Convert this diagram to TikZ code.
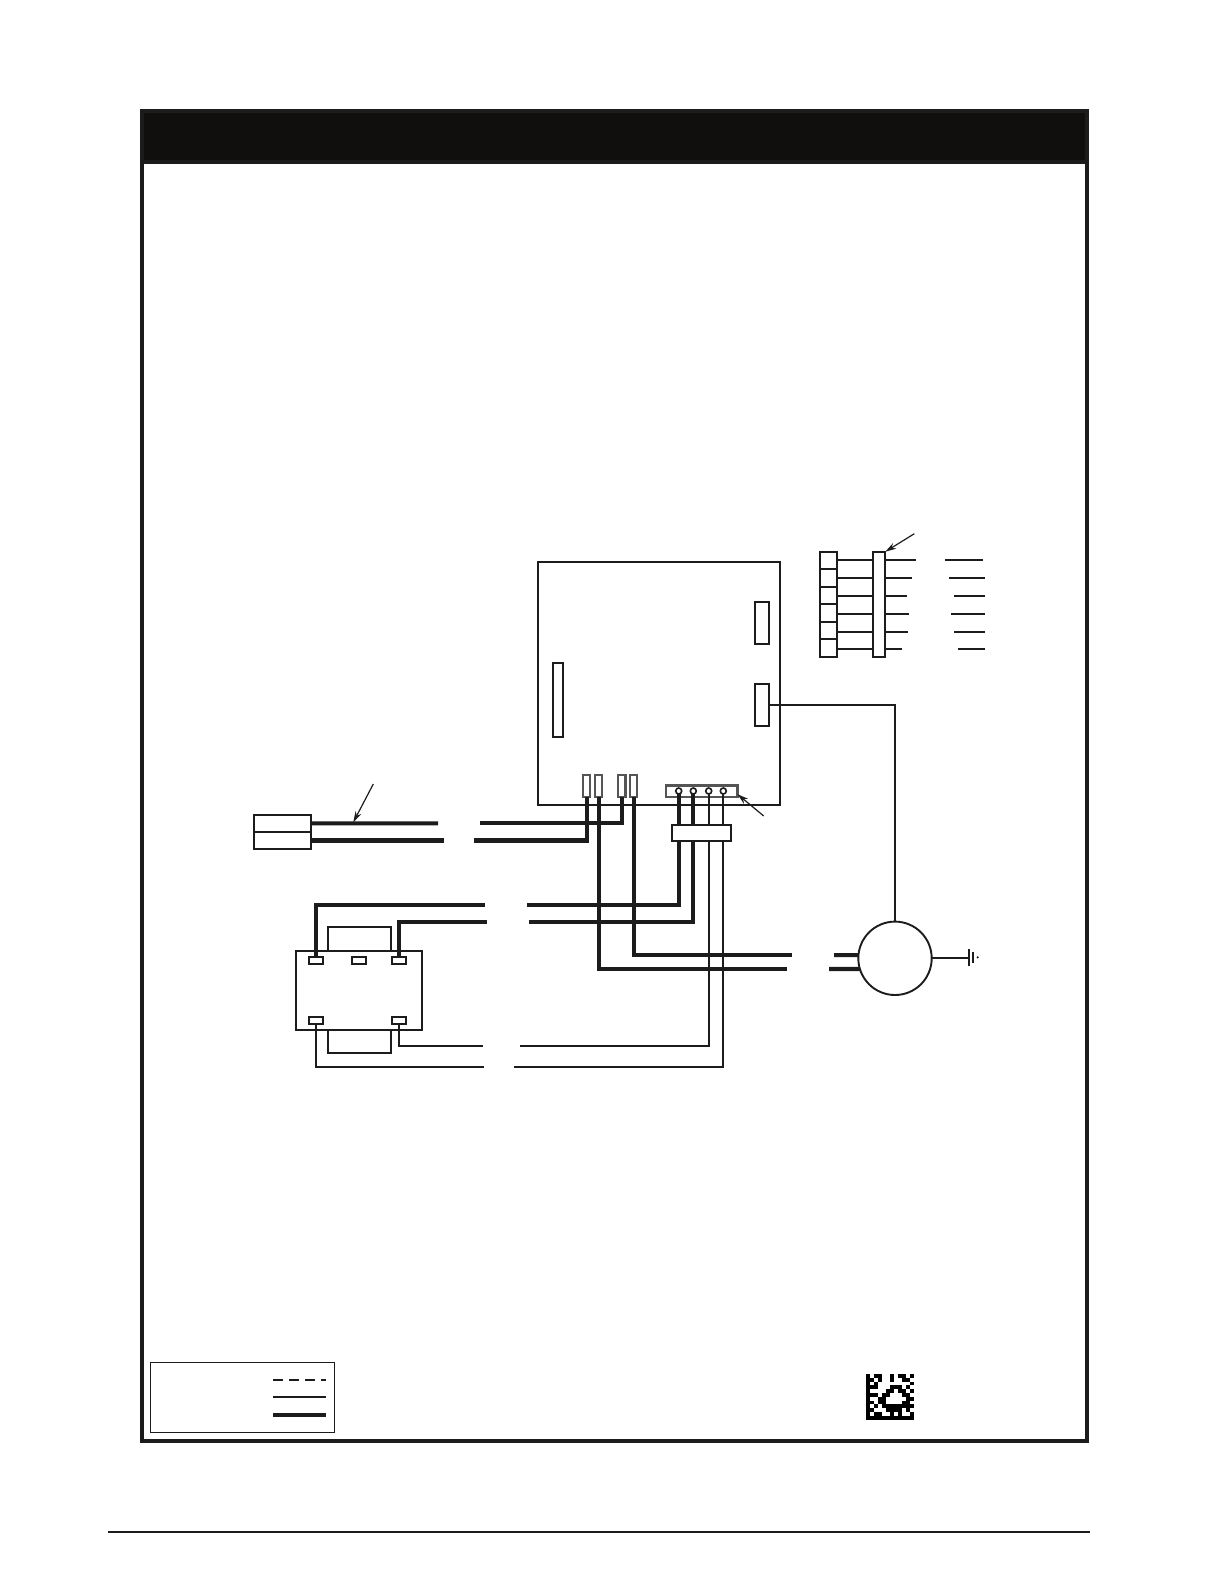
\documentclass[tikz,border=0pt]{standalone}
\usepackage{tikz}
\usetikzlibrary{arrows.meta}
\definecolor{inkline}{HTML}{1C1C1C}
\definecolor{headfill}{HTML}{100F0D}
\tikzset{
partbox/.style={draw=inkline,fill=white,line width=0.95pt,inner sep=0pt,outer sep=0pt},
lugbox/.style={partbox,draw=inkline!75,line width=1.05pt},
pinnode/.style={circle,draw=inkline,fill=white,line width=0.8pt,inner sep=0pt,outer sep=0pt,minimum size=3pt},
thickwire/.style={draw=inkline,line width=2.1pt},
thinwire/.style={draw=inkline,line width=0.95pt},
dashwire/.style={draw=inkline,line width=1pt,dash pattern=on 5.15pt off 2.85pt},
leader/.style={draw=inkline,line width=0.6pt,-{Stealth[length=5.5pt,width=3.2pt]}},
frameline/.style={draw=inkline,line width=2pt}
}
\newcommand{\partat}[6][partbox]{\node[#1,minimum width={(#5-(#3))*0.5pt},minimum height={(#6-(#4))*0.5pt}] (#2) at ({(#3+#5)/2},{(#4+#6)/2}) {};}
\begin{document}
\begin{tikzpicture}[x=0.5pt,y=-0.5pt]
\useasboundingbox (0,0) rectangle (1224,1584);
\draw[frameline] (142,111) rectangle (1087,1441);
\draw[frameline,fill=headfill] (142,111) rectangle (1087,162);
\draw[inkline,line width=1.25pt] (108,1532) -- (1090,1532);

\partat{board}{537.7}{562}{780}{805}
\partat{slotL}{552.7}{662.7}{563.3}{737.3}
\partat{slotA}{754.7}{602.3}{768.7}{644.3}
\partat{slotB}{754.7}{683.7}{768.7}{726.3}
\partat[lugbox]{term1}{583}{775.3}{590.3}{796.7}
\partat[lugbox]{term2}{595}{775.3}{602.3}{796.7}
\partat[lugbox]{term3}{618}{775.3}{625.5}{796.7}
\partat[lugbox]{term4}{630}{775.3}{637.3}{796.7}
\partat[lugbox]{strip}{666}{785.5}{737.5}{796.7}
\node[pinnode] (pin1) at (678.7,791) {};
\node[pinnode] (pin2) at (693.3,791) {};
\node[pinnode] (pin3) at (708.7,791) {};
\node[pinnode] (pin4) at (723.3,791) {};
\partat{block}{671.7}{824.7}{731.3}{841.3}

\partat{plugA}{254.3}{814.7}{311.3}{832}
\partat{plugB}{254.3}{832}{311.3}{849}
\coordinate (cutA) at (438,823.35);
\coordinate (cutB) at (444,840.5);
\coordinate (cutC) at (480,823.35);
\coordinate (cutD) at (474,840.5);
\draw[thickwire] (plugA.east) -- (cutA);
\draw[thickwire] (plugB.east) -- (cutB);
\draw[thickwire] (term3.south) |- (cutC);
\draw[thickwire] (term1.south) |- (cutD);
\coordinate (tipA) at (373.3,784);
\coordinate (tipB) at (353.3,822.3);
\draw[leader] (tipA) -- (tipB);

\partat{coreT}{327.7}{926.7}{391.3}{951}
\partat{coreB}{327.7}{1029}{391.3}{1053}
\partat{xfmr}{295.7}{950.7}{422.3}{1029.7}
\partat{lugA}{308.7}{956.7}{323.3}{964.3}
\partat{lugB}{351.7}{956.7}{366.3}{964.3}
\partat{lugC}{391.7}{956.7}{406.3}{964.3}
\partat{lugD}{308.7}{1016.7}{323.3}{1024.3}
\partat{lugE}{391.7}{1016.7}{406.3}{1024.3}
\coordinate (cutE) at (485,905.3);
\coordinate (cutF) at (527,905.3);
\coordinate (cutG) at (487,922.3);
\coordinate (cutH) at (529,922.3);
\coordinate (cutJ) at (483,1046);
\coordinate (cutK) at (520,1046);
\coordinate (cutL) at (483.7,1066.7);
\coordinate (cutM) at (514,1066.7);
\draw[thickwire] (lugA.north) |- (cutE);
\draw[thickwire] (cutF) -| (pin1 |- block.south);
\draw[thickwire] (lugC.north) |- (cutG);
\draw[thickwire] (cutH) -| (pin2 |- block.south);
\draw[thinwire] (lugE.south) |- (cutJ);
\draw[thinwire] (cutK) -| (pin3 |- block.south);
\draw[thinwire] (lugD.south) |- (cutL);
\draw[thinwire] (cutM) -| (pin4 |- block.south);
\draw[thickwire] (pin1.south) -- (pin1 |- block.north);
\draw[thickwire] (pin2.south) -- (pin2 |- block.north);
\draw[thinwire] (pin3.south) -- (pin3 |- block.north);
\draw[thinwire] (pin4.south) -- (pin4 |- block.north);
\coordinate (tipC) at (763.7,816);
\draw[leader] (tipC) -- (strip.-5);

\node[draw=inkline,fill=white,line width=0.95pt,circle,inner sep=0pt,outer sep=0pt,minimum size=36.7pt] (motor) at (895,958.3) {};
\coordinate (cutN) at (792,955.1);
\coordinate (cutP) at (786.7,969);
\coordinate (cutQ) at (834,955.1);
\coordinate (cutR) at (829,969);
\draw[thickwire] (term4.south) |- (cutN);
\draw[thickwire] (term2.south) |- (cutP);
\draw[thickwire] (cutQ) -- (motor.175);
\draw[thickwire] (cutR) -- (motor.197);
\draw[thinwire] (slotB.east) -| (motor.north);
\coordinate (earth) at (968.7,958.3);
\draw[thinwire] (motor.east) -- (earth);
\draw[inkline,line width=1pt] (968.7,949) -- (968.7,965.7);
\draw[inkline,line width=1pt] (973.2,952) -- (973.2,962.7);
\fill[inkline] (977.7,957.3) circle (1.2);

\partat{bar}{872.7}{551.7}{885.3}{657}
\partat{cell1}{819.7}{551.7}{837}{569}
\partat{cell2}{819.7}{569}{837}{586.7}
\partat{cell3}{819.7}{586.7}{837}{604}
\partat{cell4}{819.7}{604}{837}{621.7}
\partat{cell5}{819.7}{621.7}{837}{639}
\partat{cell6}{819.7}{639}{837}{657}
\foreach \i/\yy/\xa/\xb/\xc in {1/559.7/916/945/983,2/577.7/912/949/984.7,3/596/907/954/984.7,4/614/909/951/984.7,5/632/908/954/984.7,6/648.7/902/958/984.7}{
\coordinate (endA\i) at (\xa,\yy);
\coordinate (endB\i) at (\xb,\yy);
\coordinate (endC\i) at (\xc,\yy);
\draw[thinwire] (endA\i -| cell\i.east) -- (endA\i -| bar.west);
\draw[thinwire] (endA\i -| bar.east) -- (endA\i);
\draw[thinwire] (endB\i) -- (endC\i);
}
\coordinate (tipD) at (914.3,533.7);
\draw[leader] (tipD) -- (bar.north east);

\partat[partbox,line width=0.65pt]{legend}{150.3}{1362.3}{334.3}{1432.3}
\foreach \yy/\wire in {1380/dashwire,1397/thinwire,1415/thickwire}
\draw[\wire] (273,\yy) -- (326,\yy);

\foreach \r/\cols in {0/{0,2,3,6,8,9,11},1/{0,1,3,6,9,10},2/{0,2,11},3/{0,1,2,6,7,8,10},4/{0,5,6,8,9,11},5/{0,1,2,4,5,9,10},6/{0,3,4,10,11},7/{0,1,3,4,9,10},8/{0,2,4,5,6,7,8,9,10,11},9/{0,1,5,6,7,8,10},10/{0,2,3,6,8,11},11/{0,1,2,3,4,5,6,7,8,9,10,11}}
\foreach \c in \cols
\fill[black] ({866+4*\c},{1374+3.8*\r}) rectangle +(4,3.8);
\end{tikzpicture}
\end{document}
